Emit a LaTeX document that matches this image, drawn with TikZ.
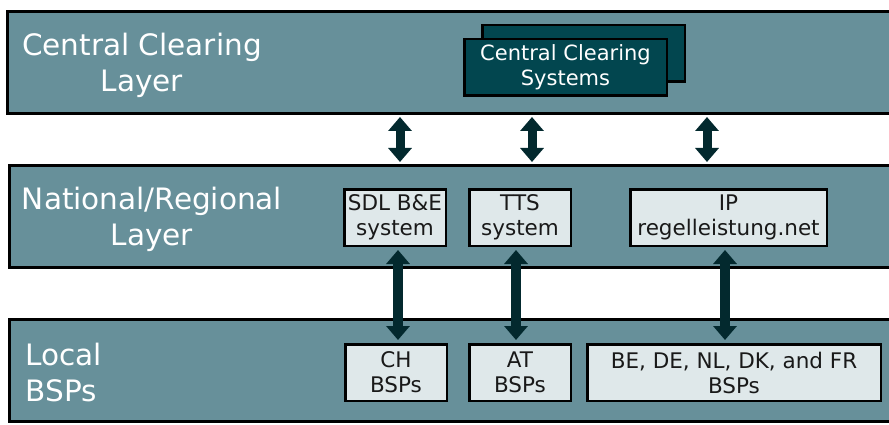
\documentclass[tikz,border=0pt]{standalone}
\usepackage{fontspec}
\setmainfont{DejaVu Sans}
\usetikzlibrary{arrows.meta}
\definecolor{layerfill}{HTML}{67909A}
\definecolor{ccsfill}{HTML}{02464F}
\definecolor{boxfill}{HTML}{DFE8EA}
\definecolor{arrowcol}{HTML}{03292E}
\tikzset{
  layer/.style={draw=black, line width=3pt, fill=layerfill, minimum width=900pt,
    minimum height=102pt, anchor=west, inner sep=0pt},
  layerlabel/.style={text=white, font=\fontsize{29.5}{36}\selectfont, align=center},
  sysbox/.style={draw=black, line width=2.5pt, fill=boxfill, minimum height=56.5pt,
    inner sep=0pt, font=\fontsize{21.5}{25}\selectfont, align=center, text=black!90},
  ccsbox/.style={draw=black, line width=2.5pt, fill=ccsfill, minimum width=202.5pt,
    minimum height=56.5pt, inner sep=0pt, text=white,
    font=\fontsize{21}{25}\selectfont, align=center},
  biarrow/.style={draw=arrowcol, line width=9pt,
    {Triangle[width=23pt,length=14pt]}-{Triangle[width=23pt,length=14pt]}},
}
\begin{document}
\begin{tikzpicture}[x=1pt, y=-1pt]
  \useasboundingbox (0,0) rectangle (889,425);
  % the three layers
  \node[layer] (ccl) at (6,62.5) {};
  \node[layer] (nrl) at (8,216.5) {};
  \node[layer] (bsp) at (8,370.5) {};
  \node[layerlabel] (ccllabel) at (142,65) {Central Clearing\\Layer};
  \node[layerlabel] (nrllabel) at (152,219) {National/Regional\\Layer};
  \node[layerlabel, align=left, anchor=west] (bsplabel) at (22,372) {Local\\BSPs};
  % central clearing systems
  \node[ccsbox] (ccsback) at (583.5,53.5) {};
  \node[ccsbox] (ccs) at (565.5,67.5) {Central Clearing\\Systems};
  % national / regional systems
  \node[sysbox, minimum width=101.5pt] (sdl) at (395,217.5) {SDL B\&E\\system};
  \node[sysbox, minimum width=101.5pt] (tts) at (520,217.5) {TTS\\system};
  \node[sysbox, minimum width=196.5pt] (ip) at (728.5,217.5) {IP\\regelleistung.net};
  % local BSPs
  \node[sysbox, minimum width=101.5pt] (ch) at (396,372.5) {CH\\BSPs};
  \node[sysbox, minimum width=101.5pt] (at) at (520,372.5) {AT\\BSPs};
  \node[sysbox, minimum width=293.5pt] (be) at (734,372.5) {BE, DE, NL, DK, and FR\\BSPs};
  % arrows
  \coordinate (u1) at (400,0);
  \coordinate (u2) at (532,0);
  \coordinate (u3) at (707,0);
  \coordinate (m1) at (398,0);
  \coordinate (m2) at (516,0);
  \coordinate (m3) at (725,0);
  \foreach \c in {u1,u2,u3}
    \draw[biarrow, shorten <=2pt, shorten >=2pt] (ccl.south -| \c) -- (nrl.north -| \c);
  \draw[biarrow, line width=10pt, shorten <=3pt, shorten >=3pt] (sdl.south -| m1) -- (ch.north -| m1);
  \draw[biarrow, line width=10pt, shorten <=3pt, shorten >=3pt] (tts.south -| m2) -- (at.north -| m2);
  \draw[biarrow, line width=10pt, shorten <=3pt, shorten >=3pt] (ip.south -| m3) -- (be.north -| m3);
\end{tikzpicture}
\end{document}
